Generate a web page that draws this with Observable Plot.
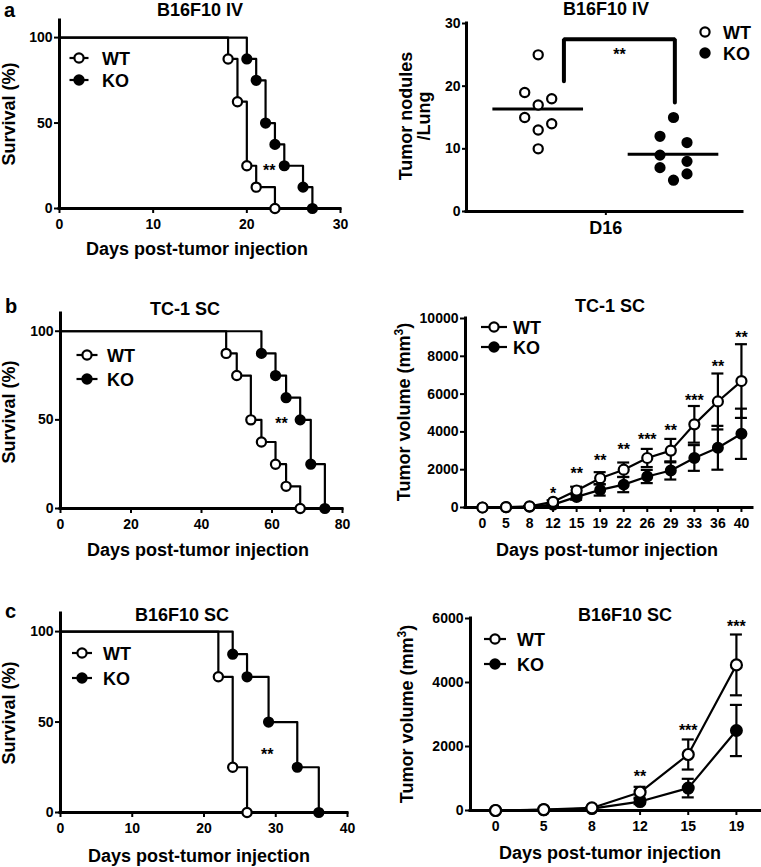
<!DOCTYPE html>
<html><head><meta charset="utf-8">
<script src="https://cdn.jsdelivr.net/npm/d3@7"></script>
<script src="https://cdn.jsdelivr.net/npm/@observablehq/plot@0.6"></script>
<style>
body{margin:0;background:#fff;}
#fig{position:relative;width:761px;height:867px;overflow:hidden;background:#fff;}
</style></head><body><div id="fig"></div>
<script>
// ---------- DATA ----------
// Panel a: B16F10 IV survival (Kaplan-Meier)
const kmA_wtDays = [0, 18, 19, 20, 21, 23];
const kmA_wtSurv = [100, 87.5, 62.5, 25, 12.5, 0];
const kmA_koDays = [0, 20, 21, 22, 23, 24, 26, 27];
const kmA_koSurv = [100, 87.5, 75, 50, 37.5, 25, 12.5, 0];
const kmA_star = {x: 22.4, y: 24.5, label: "**"};
// Panel a: tumor nodules / lung at D16
const nodulesWT = [25, 19, 18, 17, 15, 14, 13, 10];
const nodulesKO = [15, 12, 11, 9, 8, 7, 6, 5];
const nodulesBracket = {x1: 1.19, x2: 2.01, yLeft: 20.8, yTop: 27.5, yRight: 17.4, label: "**", labelY: 25.6};
// Panel b: TC-1 SC survival
const kmB_wtDays = [0, 47, 50, 54, 57, 61, 64, 68];
const kmB_wtSurv = [100, 87.5, 75, 50, 37.5, 25, 12.5, 0];
const kmB_koDays = [0, 57, 61, 64, 68, 71, 75];
const kmB_koSurv = [100, 87.5, 75, 62.5, 50, 25, 0];
const kmB_star = {x: 62.7, y: 50, label: "**"};
// Panel b: TC-1 SC tumor volume
const volB_days = [0, 5, 8, 12, 15, 19, 22, 26, 29, 33, 36, 40];
const volB_wt    = [0, 20, 60, 300, 900, 1550, 2000, 2620, 3010, 4400, 5610, 6690];
const volB_wtErr = [0, 0, 20, 80, 200, 320, 380, 480, 620, 970, 1480, 1950];
const volB_ko    = [0, 10, 40, 150, 560, 930, 1210, 1640, 1960, 2620, 3160, 3900];
const volB_koErr = [0, 0, 20, 60, 150, 300, 400, 350, 480, 680, 1160, 1330];
const volB_stars = ["", "", "", "*", "**", "**", "**", "***", "**", "***", "**", "**"];
const volB_starY = [null, null, null, 940, 2000, 2660, 3250, 3810, 4250, 5840, 7640, 9190];
// Panel c: B16F10 SC survival
const kmC_wtDays = [0, 22, 24, 26];
const kmC_wtSurv = [100, 75, 25, 0];
const kmC_koDays = [0, 24, 26, 29, 33, 36];
const kmC_koSurv = [100, 87.5, 75, 50, 25, 0];
const kmC_star = {x: 28.8, y: 34.3, label: "**"};
// Panel c: B16F10 SC tumor volume
const volC_days = [0, 5, 8, 12, 15, 19];
const volC_wt    = [0, 30, 80, 570, 1750, 4550];
const volC_wtErr = [0, 0, 20, 170, 470, 950];
const volC_ko    = [0, 20, 60, 280, 700, 2500];
const volC_koErr = [0, 0, 20, 80, 290, 800];
const volC_stars = ["", "", "", "**", "***", "***"];
const volC_starY = [null, null, null, 1190, 2610, 5860];

// ---------- HELPERS ----------
const FONT = '"Liberation Sans", Arial, Helvetica, sans-serif';
const fig = document.getElementById("fig");
const baseStyle = {fontFamily: FONT, fontWeight: "bold", fontSize: "14px", background: "none", overflow: "visible", color: "#000"};
const plain = d => String(d);
function place(svg, left, top) {
  svg.style.position = "absolute";
  svg.style.left = left + "px";
  svg.style.top = top + "px";
  svg.style.maxWidth = "none";
  fig.appendChild(svg);
}
function axesMarks(xDomain, yDomain, xAxisOpts, yAxisOpts) {
  return [
    Plot.axisX({tickSize: 5, tickPadding: 6, strokeWidth: 2, label: null, tickFormat: plain, ...xAxisOpts}),
    Plot.axisY({tickSize: 5, tickPadding: 2, strokeWidth: 2, label: null, tickFormat: plain, ...yAxisOpts}),
    Plot.ruleY([yDomain[0]], {strokeWidth: 3, strokeLinecap: "square"}),
    Plot.ruleX([xDomain[0]], {strokeWidth: 3, strokeLinecap: "square"})
  ];
}
function kmPlot({wtDays, wtSurv, koDays, koSurv, star, xDomain, xTicks, width, height, margins}) {
  const wt = wtDays.map((d, i) => ({day: d, surv: wtSurv[i]}));
  const ko = koDays.map((d, i) => ({day: d, surv: koSurv[i]}));
  const yDomain = [0, 110];
  return Plot.plot({
    width, height, ...margins,
    style: baseStyle,
    x: {domain: xDomain}, y: {domain: yDomain},
    marks: [
      ...axesMarks(xDomain, yDomain, {ticks: xTicks}, {ticks: [0, 50, 100]}),
      Plot.line(ko, {x: "day", y: "surv", curve: "step-after", strokeWidth: 2.2}),
      Plot.line(wt, {x: "day", y: "surv", curve: "step-after", strokeWidth: 2.2}),
      Plot.dot(ko.slice(1), {x: "day", y: "surv", r: 4.6, fill: "#000", stroke: "#000", strokeWidth: 2}),
      Plot.dot(wt.slice(1), {x: "day", y: "surv", r: 4.6, fill: "#fff", stroke: "#000", strokeWidth: 2.2}),
      Plot.text([star], {x: "x", y: "y", text: "label", fontSize: 16, fontWeight: "bold", dy: 4})
    ]
  });
}
function growthPlot({days, wt, wtErr, ko, koErr, stars, starY, yDomain, yTicks, xDomain, width, height, margins, r}) {
  const rows = days.map((d, i) => ({i, day: d, wt: wt[i], wtErr: wtErr[i], ko: ko[i], koErr: koErr[i], star: stars[i], starY: starY[i]}));
  const pxPerIdx = (width - margins.marginLeft - margins.marginRight) / (xDomain[1] - xDomain[0]);
  const cap = 6 / pxPerIdx;
  const wtE = rows.filter(d => d.wtErr > 0), koE = rows.filter(d => d.koErr > 0);
  const bar = (data, v, e) => [
    Plot.ruleX(data, {x: "i", y1: d => d[v] - d[e], y2: d => d[v] + d[e], strokeWidth: 2.2}),
    Plot.ruleY(data, {y: d => d[v] + d[e], x1: d => d.i - cap, x2: d => d.i + cap, strokeWidth: 2.2}),
    Plot.ruleY(data, {y: d => d[v] - d[e], x1: d => d.i - cap, x2: d => d.i + cap, strokeWidth: 2.2})
  ];
  return Plot.plot({
    width, height, ...margins,
    style: baseStyle,
    x: {domain: xDomain}, y: {domain: yDomain},
    marks: [
      ...axesMarks(xDomain, yDomain, {ticks: d3.range(days.length), tickFormat: i => String(days[i])}, {ticks: yTicks}),
      ...bar(koE, "ko", "koErr"),
      ...bar(wtE, "wt", "wtErr"),
      Plot.line(rows, {x: "i", y: "ko", strokeWidth: 2.2}),
      Plot.line(rows, {x: "i", y: "wt", strokeWidth: 2.2}),
      Plot.dot(rows, {x: "i", y: "ko", r, fill: "#000", stroke: "#000", strokeWidth: 2}),
      Plot.dot(rows, {x: "i", y: "wt", r, fill: "#fff", stroke: "#000", strokeWidth: 2.2}),
      Plot.text(rows.filter(d => d.star), {x: "i", y: "starY", text: "star", fontSize: 16, fontWeight: "bold", dy: 4})
    ]
  });
}
// spread points with close values sideways (scatter dot plot)
function spread(values, pxPerUnit, minGap) {
  const order = values.map((v, i) => i).sort((a, b) => values[b] - values[a]);
  const out = new Array(values.length).fill(0);
  let cluster = [];
  const flush = () => {
    const n = cluster.length;
    if (n > 1) cluster.forEach((k, j) => { out[k] = (n % 2 === 1 && j === n - 1) ? 0 : (j % 2 === 0 ? -1 : 1); });
    cluster = [];
  };
  order.forEach(k => {
    if (cluster.length && (values[cluster[cluster.length - 1]] - values[k]) * pxPerUnit >= minGap) flush();
    cluster.push(k);
  });
  flush();
  return out;
}

// ---------- PANEL a (left) ----------
place(kmPlot({wtDays: kmA_wtDays, wtSurv: kmA_wtSurv, koDays: kmA_koDays, koSurv: kmA_koSurv, star: kmA_star,
  xDomain: [0, 30], xTicks: [0, 10, 20, 30], width: 380, height: 240,
  margins: {marginLeft: 59, marginRight: 40, marginTop: 20, marginBottom: 32}}), 0, 0);

// ---------- PANEL a (right) ----------
{
  const width = 381, height = 240, mL = 86, mR = 19, mT = 23, mB = 29;
  const xDomain = [0.47, 2.51], yDomain = [0, 30];
  const pxX = (width - mL - mR) / (xDomain[1] - xDomain[0]);
  const pxY = (height - mT - mB) / (yDomain[1] - yDomain[0]);
  const sWT = spread(nodulesWT, pxY, 10.5), sKO = spread(nodulesKO, pxY, 10.5);
  const step = 13.5 / pxX;
  const pts = [
    ...nodulesWT.map((v, i) => ({g: "WT", x: 1 + sWT[i] * step, v})),
    ...nodulesKO.map((v, i) => ({g: "KO", x: 2 + sKO[i] * step, v}))
  ];
  const means = [{x: 1, m: d3.mean(nodulesWT)}, {x: 2, m: d3.mean(nodulesKO)}];
  const b = nodulesBracket;
  const bracket = [{x: b.x1, y: b.yLeft}, {x: b.x1, y: b.yTop}, {x: b.x2, y: b.yTop}, {x: b.x2, y: b.yRight}];
  const svg = Plot.plot({
    width, height, marginLeft: mL, marginRight: mR, marginTop: mT, marginBottom: mB,
    style: baseStyle,
    x: {domain: xDomain}, y: {domain: yDomain},
    marks: [
      ...axesMarks(xDomain, yDomain, {ticks: [1.5], tickFormat: () => "D16", fontSize: 18, tickSize: 4}, {ticks: [0, 10, 20, 30], tickSize: 4}),
      Plot.ruleY(means, {y: "m", x1: d => d.x - 0.335, x2: d => d.x + 0.335, strokeWidth: 3}),
      Plot.line(bracket, {x: "x", y: "y", strokeWidth: 4, strokeLinejoin: "miter"}),
      Plot.text([b], {x: d => (d.x1 + d.x2) / 2, y: "labelY", text: "label", fontSize: 16, fontWeight: "bold", dy: 4}),
      Plot.dot(pts.filter(d => d.g === "KO"), {x: "x", y: "v", r: 4.6, fill: "#000", stroke: "#000", strokeWidth: 2}),
      Plot.dot(pts.filter(d => d.g === "WT"), {x: "x", y: "v", r: 4.6, fill: "#fff", stroke: "#000", strokeWidth: 2.2})
    ]
  });
  place(svg, 380, 0);
}

// ---------- PANEL b ----------
place(kmPlot({wtDays: kmB_wtDays, wtSurv: kmB_wtSurv, koDays: kmB_koDays, koSurv: kmB_koSurv, star: kmB_star,
  xDomain: [0, 80], xTicks: [0, 20, 40, 60, 80], width: 380, height: 260,
  margins: {marginLeft: 60, marginRight: 38, marginTop: 33, marginBottom: 32}}), 0, 280);
place(growthPlot({days: volB_days, wt: volB_wt, wtErr: volB_wtErr, ko: volB_ko, koErr: volB_koErr,
  stars: volB_stars, starY: volB_starY, yDomain: [0, 10000], yTicks: [0, 2000, 4000, 6000, 8000, 10000],
  xDomain: [-0.72, 11.47], width: 381, height: 260, r: 5,
  margins: {marginLeft: 85, marginRight: 9, marginTop: 38, marginBottom: 33}}), 380, 280);

// ---------- PANEL c ----------
place(kmPlot({wtDays: kmC_wtDays, wtSurv: kmC_wtSurv, koDays: kmC_koDays, koSurv: kmC_koSurv, star: kmC_star,
  xDomain: [0, 40], xTicks: [0, 10, 20, 30, 40], width: 380, height: 287,
  margins: {marginLeft: 60, marginRight: 33, marginTop: 33, marginBottom: 55}}), 0, 580);
place(growthPlot({days: volC_days, wt: volC_wt, wtErr: volC_wtErr, ko: volC_ko, koErr: volC_koErr,
  stars: volC_stars, starY: volC_starY, yDomain: [0, 6000], yTicks: [0, 2000, 4000, 6000],
  xDomain: [-0.52, 5.5], width: 381, height: 287, r: 5.5,
  margins: {marginLeft: 90, marginRight: 1, marginTop: 38, marginBottom: 57}}), 380, 580);

// ---------- OVERLAY: titles, labels, legends ----------
const ov = d3.select(fig).append("svg")
  .attr("width", 761).attr("height", 867)
  .style("position", "absolute").style("left", "0px").style("top", "0px")
  .style("font-family", FONT).style("font-weight", "bold").style("pointer-events", "none");
function txt(x, y, s, size = 18, anchor = "middle") {
  return ov.append("text").attr("x", x).attr("y", y).attr("font-size", size).attr("text-anchor", anchor).text(s);
}
function vtxt(x, y, s, size = 18) {
  return ov.append("text").attr("transform", `translate(${x},${y}) rotate(-90)`).attr("font-size", size).attr("text-anchor", "middle").text(s);
}
function vtxtMM(x, y) {
  const t = ov.append("text").attr("transform", `translate(${x},${y}) rotate(-90)`).attr("font-size", 18).attr("text-anchor", "middle");
  t.append("tspan").text("Tumor volume (mm");
  t.append("tspan").attr("font-size", 12).attr("dy", -7).text("3");
  t.append("tspan").attr("dy", 7).text(")");
}
function legendItem(cx, cy, open, half, tx, label) {
  if (half) ov.append("line").attr("x1", cx - half).attr("x2", cx + half).attr("y1", cy).attr("y2", cy).attr("stroke", "#000").attr("stroke-width", 2.2);
  ov.append("circle").attr("cx", cx).attr("cy", cy).attr("r", 4.6).attr("fill", open ? "#fff" : "#000").attr("stroke", "#000").attr("stroke-width", 2.2);
  txt(tx, cy + 6.5, label, 18, "start");
}
// panel letters
txt(4, 17, "a", 20, "start");
txt(5, 313, "b", 20, "start");
txt(5, 618, "c", 20, "start");
// titles
txt(200, 16, "B16F10 IV");
txt(606, 15, "B16F10 IV");
txt(185, 315, "TC-1 SC");
txt(610, 311.5, "TC-1 SC");
txt(182, 620.5, "B16F10 SC");
txt(625, 620.5, "B16F10 SC");
// y titles
vtxt(15, 114, "Survival (%)");
vtxt(15, 412, "Survival (%)");
vtxt(15, 713, "Survival (%)");
vtxt(412, 116, "Tumor nodules");
vtxt(430, 116, "/Lung");
vtxtMM(410, 412);
vtxtMM(413, 714);
// x titles
txt(197, 254.5, "Days post-tumor injection");
txt(198, 555.5, "Days post-tumor injection");
txt(607, 555.5, "Days post-tumor injection");
txt(199, 861.5, "Days post-tumor injection");
txt(610, 858.5, "Days post-tumor injection");
// legends
legendItem(79, 58, true, 9.5, 102, "WT");
legendItem(79, 80, false, 9.5, 102, "KO");
legendItem(705, 32, true, 0, 723, "WT");
legendItem(705, 53, false, 0, 723, "KO");
legendItem(87, 355, true, 10.5, 107, "WT");
legendItem(87, 379, false, 10.5, 107, "KO");
legendItem(494, 327, true, 13, 513, "WT");
legendItem(494, 347, false, 13, 513, "KO");
legendItem(82, 653, true, 10, 103, "WT");
legendItem(82, 678, false, 10, 103, "KO");
legendItem(495, 639, true, 11, 517, "WT");
legendItem(495, 664, false, 11, 517, "KO");
</script></body></html>
